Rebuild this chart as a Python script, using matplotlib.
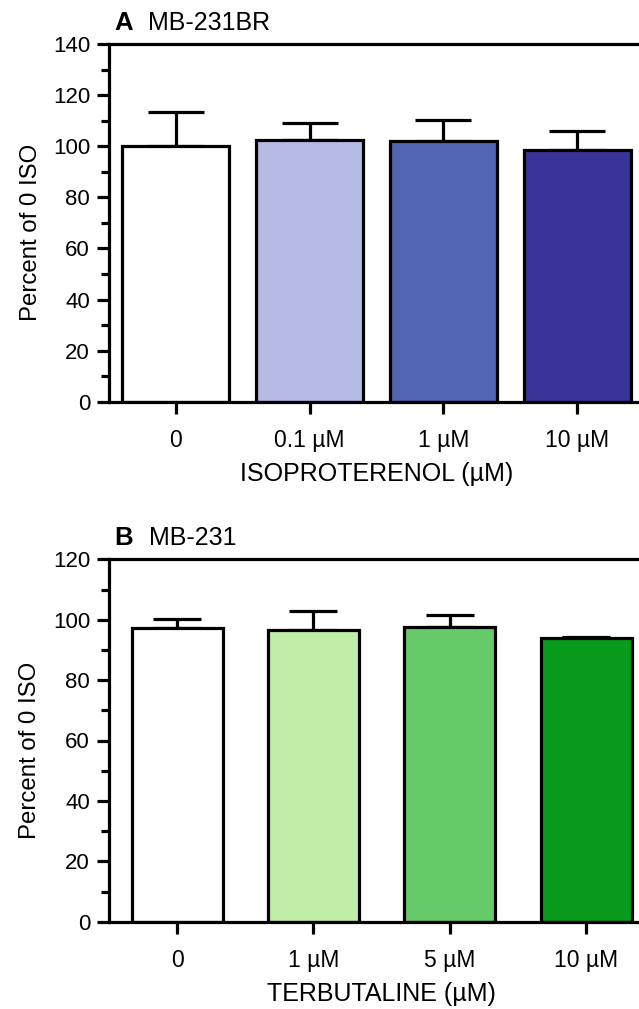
import numpy as np
import matplotlib
matplotlib.use('Agg')
import matplotlib.pyplot as plt
from matplotlib.ticker import MultipleLocator

plt.rcParams['font.family'] = ['Liberation Sans', 'DejaVu Sans']

# Panel A data (MB-231BR, isoproterenol)
iso_labels = ['0', '0.1 µM', '1 µM', '10 µM']
iso_mean = [100.0, 102.6, 101.9, 98.6]
iso_err = [13.5, 6.5, 8.4, 7.5]
iso_colors = ['#ffffff', '#b8bae6', '#5265b2', '#393598']

# Panel B data (MB-231, terbutaline)
ter_labels = ['0', '1 µM', '5 µM', '10 µM']
ter_mean = [97.3, 96.7, 97.6, 94.0]
ter_err = [2.8, 6.1, 4.0, 0.4]
ter_colors = ['#ffffff', '#c0eea8', '#66c96a', '#099b1b']

W, H = 639, 1009
fig = plt.figure(figsize=(W / 100, H / 100), dpi=100)

LW = 2.3


def panel(rect, labels, mean, err, colors, width, capsize, ymax, letter, name, xlabel):
    ax = fig.add_axes(rect)
    x = np.arange(len(labels))
    ax.errorbar(x, mean, yerr=[np.zeros(len(err)), err], fmt='none', ecolor='black',
                elinewidth=LW, capsize=capsize, capthick=LW, zorder=1)
    ax.bar(x, mean, width=width, color=colors, edgecolor='black', linewidth=LW, zorder=2)
    ax.set_xlim(-0.5, 3.5)
    ax.set_ylim(0, ymax)
    ax.yaxis.set_major_locator(MultipleLocator(20))
    ax.yaxis.set_minor_locator(MultipleLocator(10))
    ax.set_xticks(x)
    ax.set_xticklabels(labels)
    for s in ax.spines.values():
        s.set_linewidth(LW)
    ax.spines['right'].set_visible(False)
    ax.tick_params(axis='y', which='major', direction='out', length=8.6, width=LW,
                   labelsize=16, pad=5)
    ax.tick_params(axis='y', which='minor', direction='out', length=5.8, width=LW)
    ax.tick_params(axis='x', which='major', direction='out', length=8.6, width=LW,
                   labelsize=16.5, pad=11)
    ax.set_xlabel(xlabel, fontsize=18, labelpad=7)
    ax.set_ylabel('Percent of 0 ISO', fontsize=17.3)
    ax.yaxis.set_label_coords(-0.125, 0.474)
    ax.text(0.01, 1.04, letter, transform=ax.transAxes, fontsize=18.5,
            fontweight='bold', ha='left', va='baseline')
    ax.text(0.073, 1.04, name, transform=ax.transAxes, fontsize=18,
            ha='left', va='baseline')
    return ax


panel([109 / W, 1 - 401.7 / H, 535.2 / W, 357.7 / H], iso_labels, iso_mean, iso_err,
      iso_colors, 0.8, 20, 140, 'A', 'MB-231BR', 'ISOPROTERENOL (µM)')
panel([109 / W, 1 - 921.7 / H, 545.2 / W, 362.4 / H], ter_labels, ter_mean, ter_err,
      ter_colors, 0.667, 17, 120, 'B', 'MB-231', 'TERBUTALINE (µM)')

fig.savefig('out.png', dpi=100)
